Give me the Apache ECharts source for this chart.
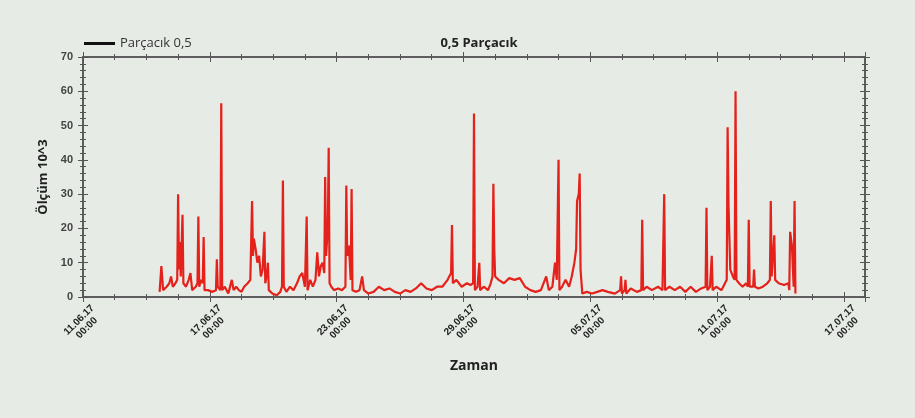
<!DOCTYPE html>
<html>
<head>
<meta charset="utf-8">
<script src="https://cdn.jsdelivr.net/npm/echarts@6/dist/echarts.min.js"></script>
<style>
  html, body { margin: 0; padding: 0; background: #e6ebe5; }
  #chart { width: 915px; height: 418px; }
</style>
</head>
<body>
<div id="chart"></div>
<script>
// ---- Data ----
const chartTitle = '0,5 Parçacık';
const seriesName = 'Parçacık 0,5';
const yAxisTitle = 'Ölçüm 10^3';
const xAxisTitle = 'Zaman';
const axisStart = '11.06 00:00';
const axisEnd = '18.07 00:00';
const tickDays = 6;
const yMin = 0, yMax = 70, yStep = 10;

// [time 'DD.MM HH:mm' (2017), value]
const readings = [
  ['14.06 15:00', 1.5], ['14.06 17:00', 9], ['14.06 19:00', 2], ['14.06 23:00', 3],
  ['15.06 02:00', 4], ['15.06 04:00', 6], ['15.06 06:00', 3], ['15.06 09:00', 4],
  ['15.06 11:00', 5], ['15.06 12:00', 30], ['15.06 13:00', 8], ['15.06 14:00', 16],
  ['15.06 15:00', 6], ['15.06 17:00', 24], ['15.06 18:00', 4], ['15.06 21:00', 3],
  ['16.06 00:00', 5], ['16.06 02:00', 7], ['16.06 04:00', 2], ['16.06 08:00', 3],
  ['16.06 10:00', 4], ['16.06 11:00', 23.5], ['16.06 12:00', 3], ['16.06 14:00', 5],
  ['16.06 16:00', 4], ['16.06 17:00', 17.5], ['16.06 18:00', 2], ['16.06 22:00', 2],
  ['17.06 03:00', 1.5], ['17.06 07:00', 2], ['17.06 08:00', 11], ['17.06 09:00', 3],
  ['17.06 12:00', 2], ['17.06 13:00', 56.5], ['17.06 14:00', 2], ['17.06 17:00', 3],
  ['17.06 21:00', 1], ['18.06 01:00', 5], ['18.06 03:00', 2], ['18.06 06:00', 3],
  ['18.06 09:00', 2], ['18.06 12:00', 1.5], ['18.06 15:00', 3], ['18.06 19:00', 4],
  ['18.06 22:00', 5], ['19.06 00:00', 28], ['19.06 01:00', 12], ['19.06 02:00', 17],
  ['19.06 04:00', 14], ['19.06 06:00', 10], ['19.06 08:00', 12], ['19.06 10:00', 6],
  ['19.06 12:00', 8], ['19.06 14:00', 19], ['19.06 15:00', 4], ['19.06 17:00', 7],
  ['19.06 18:00', 10], ['19.06 19:00', 2], ['19.06 23:00', 1], ['20.06 04:00', 0.5],
  ['20.06 08:00', 1.5], ['20.06 10:00', 3], ['20.06 11:00', 34], ['20.06 12:00', 3],
  ['20.06 15:00', 1.5], ['20.06 19:00', 3], ['20.06 23:00', 2], ['21.06 03:00', 4],
  ['21.06 06:00', 6], ['21.06 09:00', 7], ['21.06 12:00', 3], ['21.06 14:00', 23.5],
  ['21.06 15:00', 2], ['21.06 18:00', 5], ['21.06 21:00', 3], ['22.06 00:00', 5],
  ['22.06 02:00', 13], ['22.06 04:00', 6], ['22.06 06:00', 9], ['22.06 08:00', 10],
  ['22.06 10:00', 7], ['22.06 11:00', 35], ['22.06 12:00', 12], ['22.06 14:00', 20],
  ['22.06 15:00', 43.5], ['22.06 16:00', 4], ['22.06 18:00', 3], ['22.06 21:00', 2],
  ['23.06 02:00', 2.5], ['23.06 06:00', 2], ['23.06 10:00', 3], ['23.06 11:00', 32.5],
  ['23.06 12:00', 12], ['23.06 14:00', 15], ['23.06 16:00', 5], ['23.06 17:00', 31.5],
  ['23.06 18:00', 2], ['23.06 22:00', 1.5], ['24.06 02:00', 2], ['24.06 05:00', 6],
  ['24.06 07:00', 2], ['24.06 12:00', 1], ['24.06 18:00', 1.5], ['25.06 00:00', 3],
  ['25.06 06:00', 2], ['25.06 12:00', 2.5], ['25.06 18:00', 1.5], ['26.06 00:00', 1],
  ['26.06 06:00', 2], ['26.06 12:00', 1.5], ['26.06 18:00', 2.5], ['27.06 00:00', 4],
  ['27.06 06:00', 2.5], ['27.06 12:00', 2], ['27.06 18:00', 3], ['28.06 00:00', 3],
  ['28.06 06:00', 5], ['28.06 10:00', 7], ['28.06 11:00', 21], ['28.06 12:00', 4],
  ['28.06 16:00', 5], ['28.06 22:00', 3], ['29.06 04:00', 4], ['29.06 08:00', 3.5],
  ['29.06 11:00', 4], ['29.06 12:00', 53.5], ['29.06 13:00', 2], ['29.06 16:00', 3],
  ['29.06 18:00', 10], ['29.06 19:00', 2], ['29.06 23:00', 3], ['30.06 04:00', 2],
  ['30.06 07:00', 4], ['30.06 09:00', 6], ['30.06 10:00', 33], ['30.06 11:00', 14],
  ['30.06 12:00', 6], ['30.06 16:00', 5], ['30.06 22:00', 4], ['01.07 04:00', 5.5],
  ['01.07 10:00', 5], ['01.07 16:00', 5.5], ['01.07 22:00', 3], ['02.07 04:00', 2],
  ['02.07 10:00', 1.5], ['02.07 16:00', 2], ['02.07 22:00', 6], ['03.07 01:00', 2],
  ['03.07 05:00', 3], ['03.07 08:00', 10], ['03.07 10:00', 5], ['03.07 12:00', 40],
  ['03.07 13:00', 2], ['03.07 16:00', 3], ['03.07 20:00', 5], ['04.07 00:00', 3],
  ['04.07 03:00', 6], ['04.07 06:00', 10], ['04.07 08:00', 14], ['04.07 09:00', 28],
  ['04.07 11:00', 30], ['04.07 12:00', 36], ['04.07 13:00', 8], ['04.07 15:00', 1],
  ['04.07 20:00', 1.5], ['05.07 02:00', 1], ['05.07 08:00', 1.5], ['05.07 14:00', 2],
  ['05.07 20:00', 1.5], ['06.07 04:00', 1], ['06.07 10:00', 2], ['06.07 11:00', 6],
  ['06.07 12:00', 1], ['06.07 15:00', 2], ['06.07 16:00', 5], ['06.07 17:00', 1],
  ['06.07 22:00', 2.5], ['07.07 05:00', 1.5], ['07.07 10:00', 2], ['07.07 11:00', 22.5],
  ['07.07 12:00', 2], ['07.07 16:00', 3], ['07.07 22:00', 2], ['08.07 05:00', 3],
  ['08.07 10:00', 2], ['08.07 12:00', 30], ['08.07 13:00', 2], ['08.07 18:00', 3],
  ['09.07 00:00', 2], ['09.07 06:00', 3], ['09.07 12:00', 1.5], ['09.07 18:00', 3],
  ['10.07 00:00', 1.5], ['10.07 06:00', 2.5], ['10.07 11:00', 3], ['10.07 12:00', 26],
  ['10.07 13:00', 2], ['10.07 16:00', 3], ['10.07 18:00', 12], ['10.07 19:00', 2],
  ['10.07 23:00', 3], ['11.07 05:00', 2], ['11.07 09:00', 4], ['11.07 11:00', 5],
  ['11.07 12:00', 49.5], ['11.07 13:00', 27], ['11.07 15:00', 8], ['11.07 18:00', 6],
  ['11.07 20:00', 5], ['11.07 21:00', 60], ['11.07 22:00', 5], ['12.07 01:00', 4],
  ['12.07 05:00', 3], ['12.07 09:00', 4], ['12.07 11:00', 3], ['12.07 12:00', 22.5],
  ['12.07 13:00', 3], ['12.07 17:00', 3], ['12.07 18:00', 8], ['12.07 19:00', 3],
  ['12.07 23:00', 2.5], ['13.07 04:00', 3], ['13.07 09:00', 4], ['13.07 12:00', 5],
  ['13.07 13:00', 28], ['13.07 14:00', 6], ['13.07 16:00', 6], ['13.07 17:00', 18],
  ['13.07 18:00', 5], ['13.07 22:00', 4], ['14.07 04:00', 3.5], ['14.07 09:00', 4],
  ['14.07 10:00', 2], ['14.07 11:00', 19], ['14.07 13:00', 15], ['14.07 15:00', 3],
  ['14.07 16:00', 28], ['14.07 17:00', 1]
];

// ---- Helpers ----
function toMs(s) {
  const parts = s.split(' ');
  const dm = parts[0].split('.');
  const hm = parts[1].split(':');
  return Date.UTC(2017, +dm[1] - 1, +dm[0], +hm[0], +hm[1]);
}
function pad(n) { return (n < 10 ? '0' : '') + n; }
function fmtDate(v) {
  const d = new Date(v);
  return pad(d.getUTCDate()) + '.' + pad(d.getUTCMonth() + 1) + '.' + String(d.getUTCFullYear()).slice(2) +
    '\n' + pad(d.getUTCHours()) + ':' + pad(d.getUTCMinutes());
}

const xMin = toMs(axisStart);
const xMax = toMs(axisEnd);
const xInterval = tickDays * 86400000;
const seriesData = readings.map(r => [toMs(r[0]), r[1]]);

const axisColor = '#555';
const lineStyle = { color: axisColor, width: 1.5 };

function xAx(position, inside, labels) {
  return {
    type: 'value', position: position, min: xMin, max: xMax, interval: xInterval,
    axisLine: { show: true, onZero: false, lineStyle: lineStyle },
    axisTick: { show: true, inside: inside, length: 5, lineStyle: { color: axisColor, width: 1 } },
    minorTick: { show: true, splitNumber: 4, length: 3, lineStyle: { color: axisColor, width: 1 } },
    splitLine: { show: false },
    axisLabel: labels ? {
      show: true, rotate: 45, formatter: fmtDate, showMaxLabel: false,
      align: 'center', verticalAlign: 'middle',
      fontFamily: 'Liberation Sans, Arial, sans-serif', fontSize: 10, fontWeight: 'bold',
      color: '#222', lineHeight: 11, margin: 27
    } : { show: false },
    name: labels ? xAxisTitle : '',
    nameLocation: 'middle', nameGap: 62,
    nameTextStyle: { fontFamily: 'Open Sans, sans-serif', fontSize: 14, fontWeight: 'bold', color: '#222' }
  };
}
function yAx(position, inside, labels) {
  return {
    type: 'value', position: position, min: yMin, max: yMax, interval: yStep,
    axisLine: { show: true, onZero: false, lineStyle: lineStyle },
    axisTick: { show: true, inside: inside, length: 5, lineStyle: { color: axisColor, width: 1 } },
    minorTick: { show: true, splitNumber: 5, length: 3, lineStyle: { color: axisColor, width: 1 } },
    splitLine: { show: false },
    axisLabel: labels ? {
      show: true, fontFamily: 'Liberation Sans, Arial, sans-serif', fontSize: 11,
      fontWeight: 'bold', color: '#444', margin: 10
    } : { show: false },
    name: labels ? yAxisTitle : '',
    nameLocation: 'middle', nameGap: 33, nameRotate: 90,
    nameTextStyle: { fontFamily: 'Open Sans, sans-serif', fontSize: 13, fontWeight: 'bold', color: '#222' }
  };
}

const chart = echarts.init(document.getElementById('chart'));
chart.setOption({
  backgroundColor: '#e6ebe5',
  animation: false,
  title: {
    text: chartTitle, left: 474, top: 32, textAlign: 'center',
    textStyle: { fontFamily: 'Open Sans, sans-serif', fontSize: 13, fontWeight: 'bold', color: '#222' }
  },
  legend: {
    left: 79, top: 32, icon: 'rect', itemWidth: 31, itemHeight: 3, itemGap: 8,
    textStyle: { fontFamily: 'Open Sans, sans-serif', fontSize: 13, color: '#333' },
    data: [{ name: seriesName, itemStyle: { color: '#111' } }]
  },
  grid: { left: 83, right: 50, top: 57, bottom: 121 },
  xAxis: [xAx('bottom', false, true), xAx('bottom', true, false), xAx('top', true, false), xAx('top', false, false)],
  yAxis: [yAx('left', false, true), yAx('left', true, false), yAx('right', true, false), yAx('right', false, false)],
  series: [{
    name: seriesName, type: 'line', xAxisIndex: 0, yAxisIndex: 0,
    data: seriesData, symbol: 'none',
    lineStyle: { color: '#e5211b', width: 2.2 },
    itemStyle: { color: '#e5211b' }
  }]
});
</script>
</body>
</html>
